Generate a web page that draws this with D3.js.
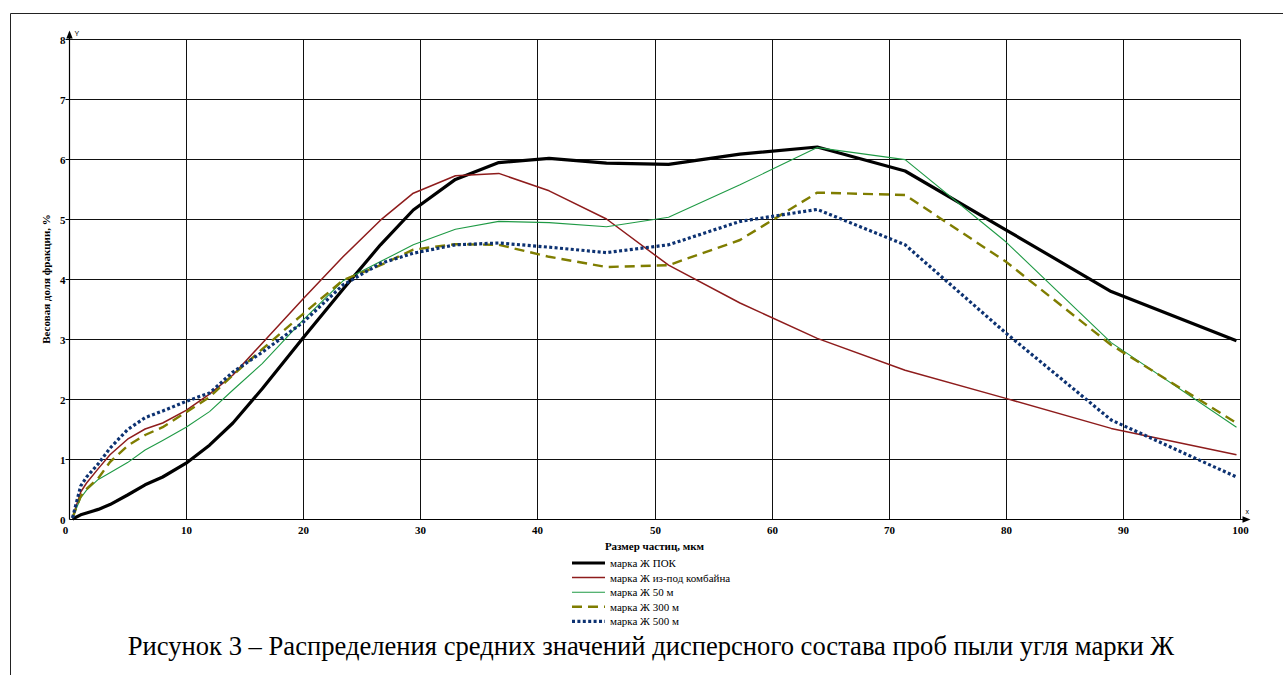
<!DOCTYPE html>
<html>
<head>
<meta charset="utf-8">
<script src="https://cdn.jsdelivr.net/npm/d3@7/dist/d3.min.js"></script>
<style>
  html, body { margin: 0; padding: 0; background: #fff; }
  svg { display: block; }
  svg text { font-family: "Liberation Serif", "Times New Roman", serif; }
  svg text.small { font-family: "Liberation Sans", Arial, sans-serif; }
</style>
</head>
<body>
<svg id="chart" width="1283" height="675"></svg>
<script>
// Particle size, µm (common abscissa for all samples)
const sizes = [0.3, 1, 1.5, 2.5, 3.5, 5, 6.5, 8, 10, 12, 14, 16.5, 20, 23.4, 26.6,
               29.4, 33, 36.7, 41, 45.9, 51.2, 57.3, 63.9, 71.4, 80, 89, 99.7];

// Mass fraction, % — one array per sample
const pok      = [0.0, 0.07, 0.1, 0.16, 0.24, 0.4, 0.57, 0.7, 0.93, 1.23, 1.6, 2.17, 3.02, 3.83, 4.57,
                  5.15, 5.66, 5.94, 6.01, 5.93, 5.91, 6.08, 6.2, 5.8, 4.82, 3.79, 2.97];
const combine  = [0.02, 0.45, 0.6, 0.84, 1.07, 1.33, 1.5, 1.6, 1.81, 2.08, 2.4, 2.93, 3.67, 4.37, 4.98,
                  5.43, 5.72, 5.76, 5.47, 5.0, 4.23, 3.6, 3.01, 2.48, 2.01, 1.51, 1.07];
const m50      = [0.02, 0.35, 0.48, 0.66, 0.77, 0.94, 1.15, 1.31, 1.53, 1.79, 2.15, 2.59, 3.32, 3.97, 4.29,
                  4.57, 4.83, 4.96, 4.94, 4.87, 5.03, 5.57, 6.19, 5.99, 4.62, 2.94, 1.53];
const m300     = [0.02, 0.38, 0.5, 0.68, 0.95, 1.22, 1.4, 1.53, 1.78, 2.03, 2.4, 2.83, 3.42, 3.98, 4.23,
                  4.49, 4.58, 4.57, 4.37, 4.2, 4.23, 4.65, 5.44, 5.4, 4.29, 2.9, 1.6];
const m500     = [0.02, 0.55, 0.7, 0.92, 1.18, 1.49, 1.69, 1.8, 1.96, 2.1, 2.45, 2.78, 3.28, 3.9, 4.26,
                  4.43, 4.57, 4.6, 4.53, 4.44, 4.57, 4.96, 5.16, 4.57, 3.1, 1.65, 0.7];

const seriesNames = ["марка Ж ПОК", "марка Ж из-под комбайна", "марка Ж 50 м", "марка Ж 300 м", "марка Ж 500 м"];
const xTicks = [0, 10, 20, 30, 40, 50, 60, 70, 80, 90, 100];
const yTicks = [0, 1, 2, 3, 4, 5, 6, 7, 8];

const xTitle = "Размер частиц, мкм";
const yTitle = "Весовая доля фракции, %";
const caption = "Рисунок 3 – Распределения средних значений дисперсного состава проб пыли угля марки Ж";

// Line styles per sample
const styles = [
  { color: "#000000", width: 3.2, dash: null },
  { color: "#8e1c1c", width: 1.5, dash: null },
  { color: "#1f9a45", width: 1.1, dash: null },
  { color: "#7f7d00", width: 2.4, dash: "10,6" },
  { color: "#0d3272", width: 3.2, dash: "3,2.4" }
];

const svg = d3.select("#chart");

// Outer page frame (top and left edges)
svg.append("path")
  .attr("d", "M10.5,675 L10.5,13.5 L1283,13.5")
  .attr("fill", "none").attr("stroke", "#222").attr("stroke-width", 1);

const x = d3.scaleLinear().domain([0, 100]).range([69, 1240]);
const y = d3.scaleLinear().domain([0, 8]).range([519, 39]);
const px = v => Math.round(x(v)) + 0.5;
const py = v => Math.round(y(v)) + 0.5;

// Grid
const grid = svg.append("g").attr("stroke", "#111").attr("stroke-width", 1);
grid.selectAll("line.gx").data(xTicks.slice(1)).join("line")
  .attr("x1", d => px(d)).attr("x2", d => px(d))
  .attr("y1", py(8)).attr("y2", py(0));
grid.selectAll("line.gy").data(yTicks.slice(1)).join("line")
  .attr("x1", px(0)).attr("x2", px(100))
  .attr("y1", d => py(d)).attr("y2", d => py(d));

// Axes with arrows
const axisG = svg.append("g").attr("stroke", "#000").attr("stroke-width", 1.2);
axisG.append("line").attr("x1", px(0)).attr("x2", px(100) + 8).attr("y1", py(0)).attr("y2", py(0));
axisG.append("line").attr("x1", px(0)).attr("x2", px(0)).attr("y1", py(0)).attr("y2", py(8) - 7);
svg.append("path")
  .attr("d", `M${px(100) + 10},${py(0)} l-8,-3.2 l0,6.4 z`).attr("fill", "#000");
svg.append("path")
  .attr("d", `M${px(0)},${py(8) - 9} l-3.2,8 l6.4,0 z`).attr("fill", "#000");
svg.append("text").attr("class", "small").attr("x", px(100) + 5).attr("y", py(0) - 6)
  .attr("font-size", 7).text("x");
svg.append("text").attr("class", "small").attr("x", px(0) + 5).attr("y", py(8) - 4)
  .attr("font-size", 7).text("Y");

// Y ticks and labels
svg.append("g").selectAll("line").data(yTicks.slice(1)).join("line")
  .attr("x1", px(0) - 4).attr("x2", px(0)).attr("y1", d => py(d)).attr("y2", d => py(d))
  .attr("stroke", "#000").attr("stroke-width", 1);
svg.append("g").selectAll("text").data(yTicks).join("text")
  .attr("x", px(0) - 4).attr("y", d => py(d) + 4)
  .attr("text-anchor", "end").attr("font-size", 11).attr("font-weight", "bold")
  .text(d => d);

// X tick labels
svg.append("g").selectAll("text").data(xTicks).join("text")
  .attr("x", d => d === 0 ? px(0) - 4 : px(d)).attr("y", py(0) + 14)
  .attr("text-anchor", "middle").attr("font-size", 11).attr("font-weight", "bold")
  .text(d => d);

// Axis titles
svg.append("text").attr("x", (x(0) + x(100)) / 2).attr("y", 550)
  .attr("text-anchor", "middle").attr("font-size", 11).attr("font-weight", "bold")
  .text(xTitle);
svg.append("text")
  .attr("transform", `translate(50,${(y(0) + y(8)) / 2}) rotate(-90)`)
  .attr("text-anchor", "middle").attr("font-size", 11).attr("font-weight", "bold")
  .text(yTitle);

// Series lines
const allSeries = [pok, combine, m50, m300, m500];
const line = d3.line().x(d => x(d[0])).y(d => y(d[1])).curve(d3.curveLinear);
const plotG = svg.append("g");
allSeries.forEach((vals, i) => {
  const pts = sizes.map((s, k) => [s, vals[k]]);
  plotG.append("path")
    .datum(pts)
    .attr("d", line)
    .attr("fill", "none")
    .attr("stroke", styles[i].color)
    .attr("stroke-width", styles[i].width)
    .attr("stroke-linejoin", "round")
    .attr("stroke-dasharray", styles[i].dash);
});

// Legend
const legend = svg.append("g");
seriesNames.forEach((name, i) => {
  const ly = 563 + i * 14.6;
  legend.append("line")
    .attr("x1", 572).attr("x2", 605).attr("y1", ly).attr("y2", ly)
    .attr("stroke", styles[i].color)
    .attr("stroke-width", styles[i].width)
    .attr("stroke-dasharray", styles[i].dash);
  legend.append("text").attr("x", 610).attr("y", ly + 4)
    .attr("font-size", 11).text(name);
});

// Figure caption, sized to span the figure width
const cap = svg.append("text").attr("x", 651).attr("y", 655)
  .attr("text-anchor", "middle").attr("font-size", 24)
  .text(caption);
const capW = cap.node().getComputedTextLength();
if (capW > 0) cap.attr("font-size", 24 * 1047 / capW);
</script>
</body>
</html>
